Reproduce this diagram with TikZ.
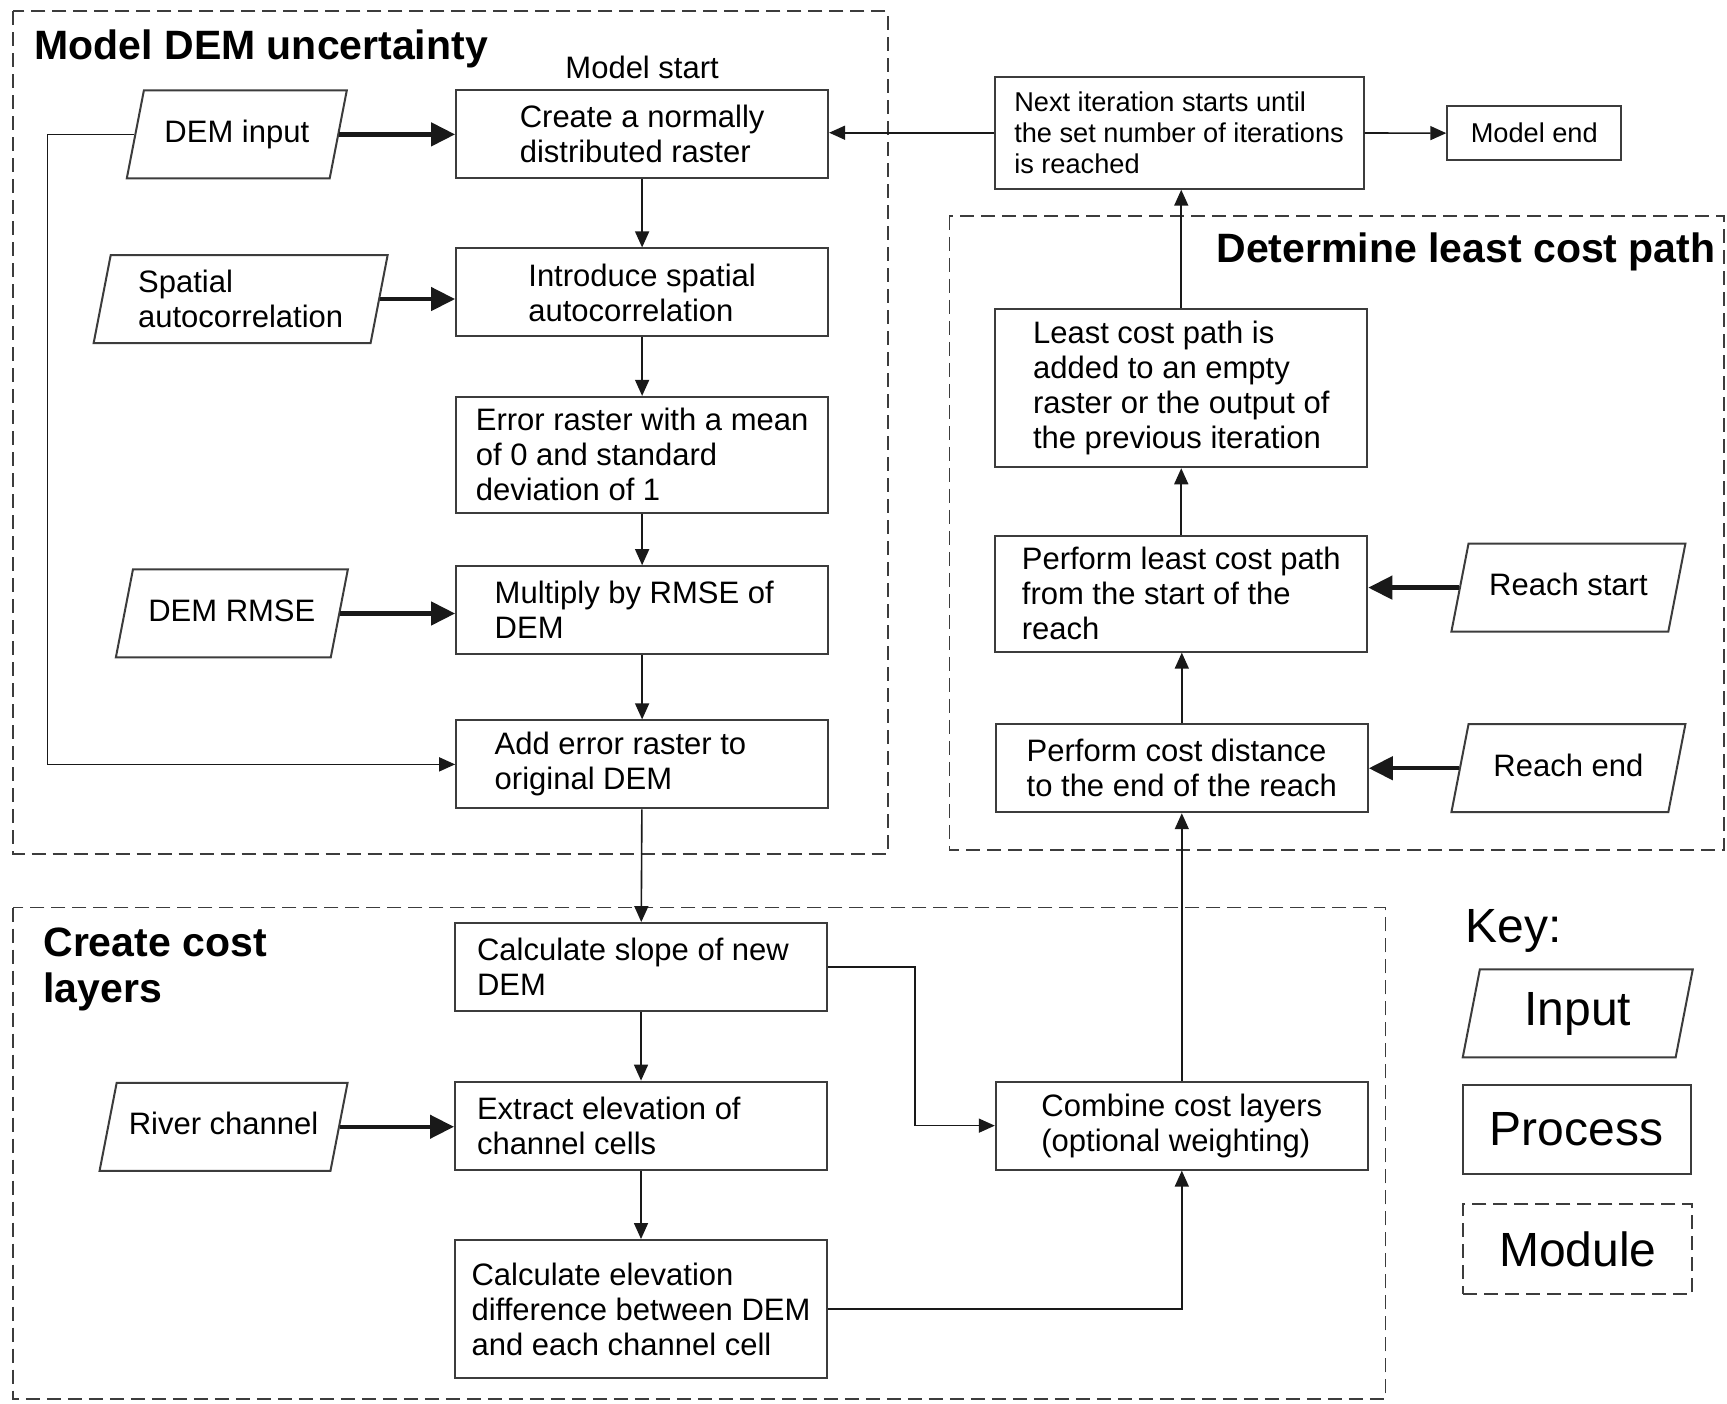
\documentclass[tikz,border=0pt]{standalone}
\usepackage{fontspec}
\setmainfont{Liberation Sans}
\usetikzlibrary{arrows.meta,shapes.geometric,positioning}
\definecolor{fcline}{RGB}{60,60,60}
\definecolor{fcarrow}{RGB}{25,25,25}

\begin{document}
\begin{tikzpicture}[x=0.5507pt,y=-0.5507pt,
  body/.style={font=\fontsize{15.5}{17.5}\selectfont},
  small/.style={font=\fontsize{13.6}{15.7}\selectfont},
  heading/.style={font=\fontsize{20.5}{23}\selectfont\bfseries},
  keytext/.style={font=\fontsize{24}{28}\selectfont},
  proc/.style={draw=fcline,line width=1pt,fill=white,body,align=left,inner sep=2pt,
    minimum width=186pt,minimum height=44pt},
  padwide/.style={align=flush left,inner xsep=19.3pt,text width=147.4pt},
  padnarrow/.style={align=flush left,inner xsep=11pt,text width=164pt},
  inp/.style={draw=fcline,line width=1pt,fill=white,body,align=center,
    inner xsep=2pt,inner ysep=14.5pt,text height=11.5pt,text depth=3.5pt,
    trapezium,trapezium left angle=79,trapezium right angle=101,trapezium stretches body,
    minimum height=44pt},
  module/.style={draw=fcline,line width=0.9pt,dash pattern=on 7pt off 3.5pt},
  flow/.style={draw=fcarrow,line width=0.8pt,-{Triangle[length=8pt,width=7pt]}},
  inarrow/.style={draw=fcarrow,line width=2.2pt,-{Triangle[length=12pt,width=11.5pt]}}]
  \useasboundingbox (0,0) rectangle (1568,1274);
  \fill[white] (0,0) rectangle (1568,1274);

  % modules
  \draw[module] (12,10) rectangle (806,775);
  \draw[module] (12,824) rectangle (1258,1270);
  \draw[module] (862,196) rectangle (1565,772);
  \node[heading,anchor=west] (tdem) at (25,44) {Model DEM uncertainty};
  \node[heading,anchor=west,align=left] (tcost) at (33,880) {Create cost\\layers};
  \node[heading,anchor=east] (tpath) at (1564,229) {Determine least cost path};

  % model DEM uncertainty
  \node[body] (start) at (583,61) {Model start};
  \node[proc] (create) at (583,122) {Create a normally\\distributed raster};
  \node[proc] (spatial) at (583,265.5) {Introduce spatial\\autocorrelation};
  \node[proc,minimum height=58pt] (error) at (583,413) {Error raster with a mean\\of 0 and standard\\deviation of 1};
  \node[proc,padwide] (multiply) at (583,554) {Multiply by RMSE of\\DEM};
  \node[proc,padwide] (adderr) at (583,694) {Add error raster to\\original DEM};
  \node[inp,minimum width=110pt] (demin) at (215,122) {DEM input};
  \node[inp,minimum width=147pt,align=left,text height=,text depth=,inner ysep=7.5pt] (autoin) at (218.5,271.5) {Spatial\\autocorrelation};
  \node[inp,minimum width=116pt] (rmsein) at (210.5,557) {DEM RMSE};
  \coordinate (loopx) at (43,0);

  % create cost layers
  \node[proc,padnarrow] (slope) at (582,878) {Calculate slope of new\\DEM};
  \node[proc,padnarrow] (extract) at (582,1022) {Extract elevation of\\channel cells};
  \node[proc,minimum height=69pt] (elevdiff) at (582,1188.5) {Calculate elevation\\difference between DEM\\and each channel cell};
  \node[proc] (combine) at (1073,1022) {Combine cost layers\\(optional weighting)};
  \node[inp,minimum width=124pt] (riverin) at (203,1023) {River channel};

  % determine least cost path
  \node[proc] (costdist) at (1073,697.5) {Perform cost distance\\to the end of the reach};
  \node[proc,minimum height=58pt] (lcpath) at (1072.5,539) {Perform least cost path\\from the start of the\\reach};
  \node[proc,minimum height=79pt] (addpath) at (1072.5,352.5) {Least cost path is\\added to an empty\\raster or the output of\\the previous iteration};
  \node[inp,minimum width=117pt] (rstartin) at (1424,533.5) {Reach start};
  \node[inp,minimum width=117pt] (rendin) at (1424,697.5) {Reach end};
  \node[proc,small,minimum width=184.5pt,minimum height=56pt] (nextit) at (1070.5,120.5) {Next iteration starts until\\the set number of iterations\\is reached};
  \node[proc,small,minimum width=87pt,minimum height=27pt] (mend) at (1393,121) {Model end};

  % key
  \node[keytext,anchor=west] (keyhead) at (1324,845) {Key:};
  \node[inp,keytext,text height=17.5pt,text depth=5pt,inner ysep=10.75pt,minimum width=115pt] (keyin) at (1432.5,920) {Input};
  \node[proc,keytext,align=center,minimum width=114pt,minimum height=44.6pt] (keyproc) at (1431.5,1025.5) {Process};
  \node[module,keytext,minimum width=114.5pt,minimum height=45pt] (keymod) at (1432.5,1134) {Module};

  % connectors
  \draw[flow] (create) -- (spatial);
  \draw[flow] (spatial) -- (error);
  \draw[flow] (error) -- (multiply);
  \draw[flow] (multiply) -- (adderr);
  \draw[flow] (adderr) -- (slope);
  \draw[flow] (slope) -- (extract);
  \draw[flow] (extract) -- (elevdiff);
  \draw[flow] (demin.west) -- (demin.west -| loopx) |- (adderr.west);
  \draw[flow] (slope.east) -- ++(79,0) |- (combine.west);
  \draw[flow] (elevdiff.east) -| (combine.south);
  \draw[flow] (combine.north) -- (combine.north |- costdist.south);
  \draw[flow] (costdist.north) -- (costdist.north |- lcpath.south);
  \draw[flow] (lcpath) -- (addpath);
  \draw[flow] (addpath.north) -- (addpath.north |- nextit.south);
  \draw[flow] (nextit.west) -- (nextit.west -| create.east);
  \draw[flow] (nextit) -- (mend);
  \draw[inarrow] (demin.east) -- (demin.east -| create.west);
  \draw[inarrow] (autoin.east) -- (autoin.east -| spatial.west);
  \draw[inarrow] (rmsein.east) -- (rmsein.east -| multiply.west);
  \draw[inarrow] (riverin.east) -- (riverin.east -| extract.west);
  \draw[inarrow] (rstartin.west) -- (rstartin.west -| lcpath.east);
  \draw[inarrow] (rendin.west) -- (rendin.west -| costdist.east);
\end{tikzpicture}
\end{document}
